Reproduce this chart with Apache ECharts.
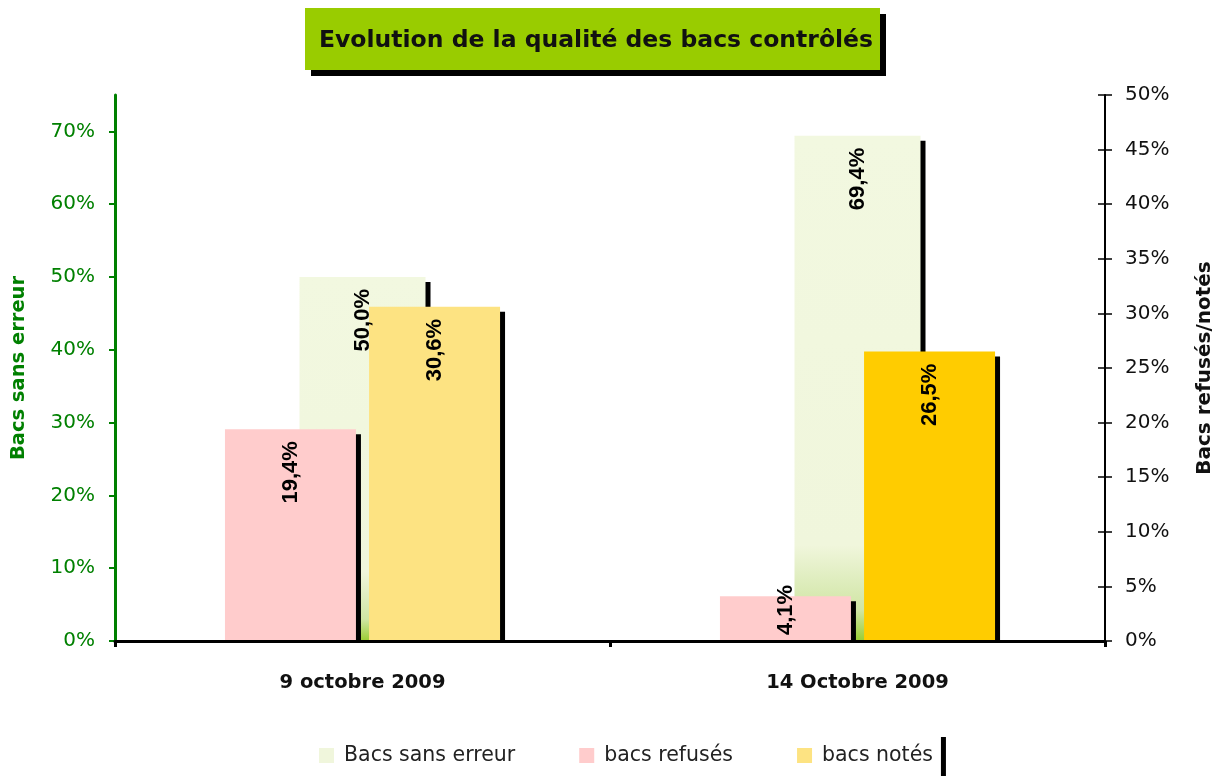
<!DOCTYPE html>
<html>
<head>
<meta charset="utf-8">
<script src="https://cdn.jsdelivr.net/npm/echarts@6/dist/echarts.min.js"></script>
<style>
  html, body { margin: 0; padding: 0; background: #fff; }
  #container { width: 1216px; height: 776px; }
</style>
</head>
<body>
<div id="container"></div>
<script>
// donnees du graphique
var dates = ['9 octobre 2009', '14 Octobre 2009'];
var sansErreur = [50.0, 69.4];
var refuses = [19.4, 4.1];
var notes = [30.6, 26.5];
var leftTicks = [0, 10, 20, 30, 40, 50, 60, 70];

var txtFont = 'DejaVu Sans';

function pct(p) {
  return p.value.toFixed(1).replace('.', ',') + '%';
}

var barLabel = {
  show: true,
  position: 'insideTop',
  distance: 12,
  rotate: 90,
  align: 'right',
  verticalAlign: 'middle',
  color: '#000',
  fontFamily: 'Liberation Sans',
  fontWeight: 'bold',
  fontSize: 22,
  formatter: pct
};

// petites barres : etiquette depuis le bas
function withLabels(arr) {
  return arr.map(function (v) {
    if (v < 10) {
      return { value: v, label: { position: 'insideBottom', align: 'left', distance: 6 } };
    }
    return v;
  });
}

var shadow = { shadowColor: '#000', shadowBlur: 0, shadowOffsetX: 5, shadowOffsetY: 5 };

var dom = document.getElementById('container');
var myChart = echarts.init(dom);
var option = {
  animation: false,
  backgroundColor: '#fff',
  title: {
    text: 'Evolution de la qualité des bacs contrôlés',
    left: 591,
    top: 24,
    textAlign: 'center',
    textStyle: { fontFamily: txtFont, fontWeight: 'bold', fontSize: 23.5, color: '#111' }
  },
  graphic: [
    {
      type: 'rect', z: -1,
      shape: { x: 305, y: 8, width: 575, height: 62 },
      style: { fill: '#99CC00', shadowColor: '#000', shadowBlur: 0, shadowOffsetX: 6, shadowOffsetY: 6 }
    },
    {
      // cache l'ombre des barres sous l'axe
      type: 'rect', z: 3,
      shape: { x: 117, y: 643, width: 995, height: 8 },
      style: { fill: '#fff' }
    }
  ],
  legend: {
    left: 311,
    top: 737,
    padding: [8, 8, 40, 8],
    backgroundColor: '#fff',
    shadowColor: '#000',
    shadowBlur: 0,
    shadowOffsetX: 5,
    shadowOffsetY: 0,
    icon: 'rect',
    itemWidth: 15,
    itemHeight: 15,
    itemGap: 64,
    textStyle: { fontFamily: txtFont, fontSize: 20.5, color: '#222', padding: [0, 0, 0, 5] },
    data: [
      { name: 'Bacs sans erreur', itemStyle: { color: '#F0F6DC' } },
      'bacs refusés',
      'bacs notés'
    ]
  },
  grid: { left: 115, right: 111, top: 95, bottom: 135, outerBoundsMode: 'none' },
  xAxis: [
    {
      type: 'category',
      data: dates,
      z: 5,
      axisLine: { lineStyle: { color: '#000', width: 3 } },
      axisTick: { show: true, length: 6, lineStyle: { color: '#000', width: 3 } },
      axisLabel: { margin: 32, fontFamily: txtFont, fontWeight: 'bold', fontSize: 19.5, color: '#111' }
    },
    { type: 'category', data: dates, show: false }
  ],
  yAxis: [
    {
      type: 'value',
      min: 0,
      max: 75,
      position: 'left',
      name: 'Bacs sans erreur',
      nameLocation: 'middle',
      nameRotate: 90,
      nameGap: 86,
      nameTextStyle: { fontFamily: txtFont, fontWeight: 'bold', fontSize: 19.5, color: '#008000' },
      axisLine: { show: true, lineStyle: { color: '#008000', width: 3 } },
      axisTick: { show: true, length: 6, customValues: leftTicks, lineStyle: { color: '#008000', width: 2 } },
      axisLabel: {
        customValues: leftTicks, margin: 20, fontFamily: txtFont, fontSize: 20, color: '#008000',
        formatter: '{value}%'
      },
      splitLine: { show: false }
    },
    {
      type: 'value',
      min: 0,
      max: 50,
      interval: 5,
      position: 'right',
      name: 'Bacs refusés/notés',
      nameLocation: 'middle',
      nameRotate: 90,
      nameGap: 90,
      nameTextStyle: { fontFamily: txtFont, fontWeight: 'bold', fontSize: 20, color: '#111' },
      axisLine: { show: true, lineStyle: { color: '#000', width: 2 } },
      axisTick: { show: true, length: 7, lineStyle: { color: '#000', width: 1.5 } },
      axisLabel: { margin: 20, fontFamily: txtFont, fontSize: 20, color: '#111', formatter: '{value}%' },
      splitLine: { show: false }
    },
    {
      // graduations interieures de l'axe droit
      type: 'value',
      min: 0,
      max: 50,
      interval: 5,
      position: 'right',
      axisLine: { show: false },
      axisTick: { show: true, inside: true, length: 7, lineStyle: { color: '#000', width: 1.5 } },
      axisLabel: { show: false },
      splitLine: { show: false }
    }
  ],
  series: [
    {
      name: 'Bacs sans erreur',
      type: 'bar',
      xAxisIndex: 0,
      yAxisIndex: 0,
      barWidth: 126,
      data: withLabels(sansErreur),
      label: barLabel,
      itemStyle: Object.assign({
        color: new echarts.graphic.LinearGradient(0, 0, 0, 1, [
          { offset: 0, color: '#F2F8E0' },
          { offset: 0.81, color: '#F0F6DC' },
          { offset: 0.94, color: '#D0E5A4' },
          { offset: 1, color: '#9ACD32' }
        ])
      }, shadow)
    },
    {
      name: 'bacs refusés',
      type: 'bar',
      xAxisIndex: 1,
      yAxisIndex: 1,
      barWidth: 131,
      barGap: '10%',
      data: withLabels(refuses),
      label: barLabel,
      itemStyle: Object.assign({ color: '#FFCCCC' }, shadow)
    },
    {
      name: 'bacs notés',
      type: 'bar',
      xAxisIndex: 1,
      yAxisIndex: 1,
      barWidth: 131,
      barGap: '10%',
      data: withLabels(notes).map(function (d, i) {
        // deuxieme date en jaune vif
        return i === 1 ? { value: d, itemStyle: { color: '#FFCC00' } } : d;
      }),
      label: barLabel,
      itemStyle: Object.assign({ color: '#FDE382' }, shadow)
    }
  ]
};
myChart.setOption(option);
</script>
</body>
</html>
